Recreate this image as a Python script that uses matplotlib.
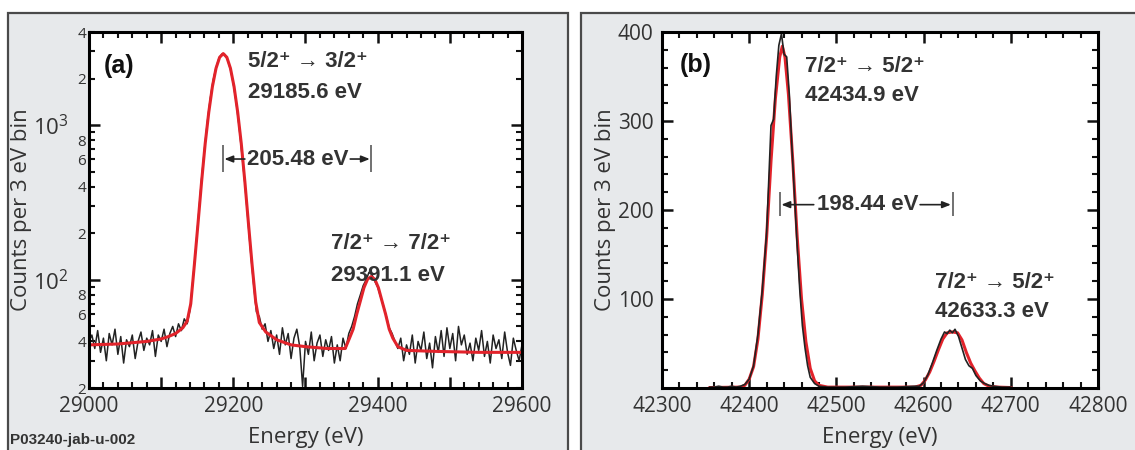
import numpy as np
import matplotlib
matplotlib.use('Agg')
import matplotlib.pyplot as plt
from matplotlib.patches import Rectangle
from matplotlib.ticker import MultipleLocator, FixedLocator, FuncFormatter

plt.rcParams['font.family'] = ['Open Sans', 'DejaVu Sans']
plt.rcParams['mathtext.fontset'] = 'custom'
plt.rcParams['mathtext.rm'] = 'Open Sans'

# ---- panel (a): 4 eV bins starting at 29000 eV
a_start, a_step = 29000, 4
a_counts = [
    40, 44, 36, 47, 34, 42, 30, 45, 38, 48, 33, 43, 29, 41, 37, 44, 31, 40, 46, 35,
    42, 38, 47, 32, 44, 40, 48, 37, 45, 50, 43, 52, 47, 56, 52, 64, 100, 160, 270, 450,
    700, 1050, 1480, 1950, 2350, 2700, 2880, 2870, 2650, 2300, 1850, 1400, 980, 640, 420, 250,
    150, 95, 62, 58, 48, 52, 40, 47, 36, 44, 33, 49, 38, 45, 31, 42, 48, 37, 20.5, 40,
    33, 46, 30, 39, 44, 32, 41, 35, 43, 29, 38, 30, 42, 36, 45, 50, 58, 70, 80, 92,
    100, 112, 108, 98, 90, 78, 68, 58, 49, 45, 40, 36, 42, 30, 38, 33, 44, 29, 40, 35,
    46, 31, 39, 27, 43, 34, 47, 32, 49, 36, 45, 30, 50, 38, 44, 33, 39, 30, 42, 35,
    47, 32, 40, 29, 44, 36, 41, 31, 46, 34, 28, 42, 35, 30, 38,
]
a_fit_e = [29000, 29040, 29080, 29100, 29110, 29120, 29130, 29136, 29141, 29146, 29151,
           29156, 29161, 29166, 29171, 29176, 29181, 29186, 29191, 29196, 29201, 29206,
           29211, 29216, 29221, 29226, 29231, 29236, 29245, 29260, 29280, 29300, 29330,
           29355, 29361, 29366, 29371, 29376, 29381, 29386, 29391, 29396, 29401, 29406,
           29411, 29416, 29421, 29428, 29440, 29480, 29540, 29600]
a_fit_c = [38, 38.5, 40, 41.5, 43, 45, 49, 54, 70, 125, 230,
           430, 760, 1215, 1775, 2330, 2745, 2900, 2745, 2330, 1775, 1215,
           760, 430, 230, 125, 72, 53, 46, 41, 38, 37, 36,
           36, 42, 48, 60, 73, 89, 101, 105, 101, 89, 73,
           60, 48, 42, 37, 35, 34.5, 34, 34]

# ---- panel (b)
b_e = [42355, 42360, 42365, 42370, 42375, 42380, 42385, 42390, 42395, 42400, 42405,
       42410, 42415, 42420, 42425, 42428, 42431, 42434, 42437, 42440, 42443, 42446,
       42449, 42452, 42455, 42458, 42461, 42464, 42467, 42470, 42475, 42480, 42490,
       42510, 42530, 42550, 42570, 42590, 42595, 42600, 42605, 42610, 42615, 42620,
       42624, 42627, 42630, 42633, 42636, 42640, 42644, 42648, 42652, 42656, 42660,
       42665, 42670, 42675, 42680, 42690, 42700]
b_counts = [1, 1, 2, 1, 1, 2, 1, 2, 4, 10, 25,
            60, 110, 175, 295, 302, 350, 385, 398, 375, 372, 330,
            270, 215, 160, 110, 70, 45, 25, 12, 5, 2, 1,
            1, 2, 1, 1, 2, 2, 6, 15, 28, 42, 55,
            63, 61, 65, 62, 66, 58, 45, 32, 25, 22, 14,
            8, 5, 3, 2, 1, 1]
b_fit_e = [42355, 42390, 42395, 42400, 42405, 42410, 42415, 42420, 42425, 42430, 42435,
           42438, 42441, 42445, 42450, 42455, 42460, 42465, 42470, 42475, 42480, 42490,
           42590, 42597, 42602, 42607, 42612, 42617, 42622, 42627, 42633, 42639, 42644,
           42649, 42654, 42659, 42664, 42669, 42675, 42685, 42700]
b_fit_c = [0.5, 1, 3, 10, 24, 55, 105, 170, 255, 325, 372,
           384, 372, 330, 255, 170, 100, 52, 22, 8, 3, 1,
           1, 3, 9, 18, 30, 43, 55, 62, 63, 62, 54,
           40, 28, 19, 11, 5, 2, 1, 0.5]

a_peaks = [29185.6, 29391.1]
b_peaks = [42434.9, 42633.3]

RED = '#e2232b'
TXT = '#333333'
W, H = 1135, 450

fig = plt.figure(figsize=(W / 100, H / 100), dpi=100)

# gray panel backgrounds
for x0, x1 in [(8, 568), (581, 1145)]:
    fig.add_artist(Rectangle((x0 / W, -0.05), (x1 - x0) / W, 1.05 - 13 / H,
                             transform=fig.transFigure, facecolor='#e7e9eb',
                             edgecolor='#4a4a4a', linewidth=1.6, zorder=0))

ax1 = fig.add_axes([89 / W, 62 / H, 433 / W, 356 / H])
ax2 = fig.add_axes([662 / W, 62 / H, 436 / W, 356 / H])

def style(ax):
    for s in ax.spines.values():
        s.set_linewidth(2.2)
    ax.tick_params(which='both', direction='in', top=True, right=True,
                   colors='#111111', labelcolor=TXT, labelsize=15)
    ax.tick_params(which='major', length=8, width=1.8, pad=6)
    ax.tick_params(which='minor', length=4.5, width=1.5)

bold = dict(family=['Liberation Sans', 'DejaVu Sans'], weight='bold', color=TXT, fontsize=16)
lab = dict(fontsize=16, color=TXT)

# ---------- (a)
a_e = a_start + a_step * np.arange(len(a_counts))
ax1.plot(a_e, a_counts, color='#222222', lw=1.1)
ax1.plot(a_fit_e, a_fit_c, color=RED, lw=2.2)
ax1.set_yscale('log')
ax1.set_xlim(29000, 29600)
ax1.set_ylim(20, 4000)
style(ax1)
ax1.xaxis.set_major_locator(MultipleLocator(100))
ax1.xaxis.set_minor_locator(MultipleLocator(20))
ax1.xaxis.set_major_formatter(FuncFormatter(lambda v, p: f'{v:.0f}' if round(v) % 200 == 0 else ''))
ax1.yaxis.set_major_locator(FixedLocator([100, 1000]))
ax1.yaxis.set_major_formatter(FuncFormatter(lambda v, p: r'$10^{%d}$' % round(np.log10(v))))
minor_vals = [m * d for d in (10, 100, 1000) for m in range(2, 10)]
ax1.yaxis.set_minor_locator(FixedLocator(minor_vals))

def minor_fmt(v, p):
    lead = int(round(v / 10 ** np.floor(np.log10(v) + 1e-9)))
    return str(lead) if lead in (2, 4, 6, 8) else ''

ax1.yaxis.set_minor_formatter(FuncFormatter(minor_fmt))
ax1.tick_params(axis='y', which='minor', labelsize=11, pad=2)
ax1.tick_params(axis='y', which='major', labelsize=16, pad=15)
ax1.set_ylabel('Counts per 3 eV bin', **lab)
ax1.set_xlabel('Energy (eV)', **lab)
ax1.yaxis.set_label_coords(-0.132, 0.5)
ax1.xaxis.set_label_coords(0.5, -0.11)

ax1.text(0.035, 0.905, '(a)', transform=ax1.transAxes, ha='left', va='center',
         family=['Liberation Sans', 'DejaVu Sans'], weight='bold', color='#111111', fontsize=18)
ax1.text(0.368, 0.916, '5/2⁺ → 3/2⁺', transform=ax1.transAxes, ha='left', va='center', **bold)
ax1.text(0.368, 0.831, '29185.6 eV', transform=ax1.transAxes, ha='left', va='center', **bold)
ax1.text(0.56, 0.407, '7/2⁺ → 7/2⁺', transform=ax1.transAxes, ha='left', va='center', **bold)
ax1.text(0.56, 0.317, '29391.1 eV', transform=ax1.transAxes, ha='left', va='center', **bold)

# width marker (a)
ya = 604
ax1.vlines(a_peaks, 497, 743, color='#666666', lw=1.3)
ax1.text(np.mean(a_peaks) + 1, ya, '205.48 eV', ha='center', va='center', **bold)
arrow = dict(arrowstyle='-|>,head_length=0.5,head_width=0.2', color='#222222', lw=1.2,
             shrinkA=0, shrinkB=0)
ax1.annotate('', xy=(a_peaks[0] + 2, ya), xytext=(29216, ya), arrowprops=arrow)
ax1.annotate('', xy=(a_peaks[1] - 2, ya), xytext=(29362, ya), arrowprops=arrow)

# ---------- (b)
ax2.plot(b_fit_e, b_fit_c, color=RED, lw=2.2)
ax2.plot(b_e, b_counts, color='#222222', lw=1.2)
ax2.set_xlim(42300, 42800)
ax2.set_ylim(0, 400)
style(ax2)
ax2.xaxis.set_major_locator(MultipleLocator(100))
ax2.xaxis.set_minor_locator(MultipleLocator(20))
ax2.yaxis.set_major_locator(MultipleLocator(100))
ax2.yaxis.set_minor_locator(MultipleLocator(20))
ax2.yaxis.set_major_formatter(FuncFormatter(lambda v, p: '' if v == 0 else f'{v:.0f}'))
ax2.set_ylabel('Counts per 3 eV bin', **lab)
ax2.set_xlabel('Energy (eV)', **lab)
ax2.yaxis.set_label_coords(-0.106, 0.5)
ax2.xaxis.set_label_coords(0.5, -0.11)

ax2.text(0.041, 0.907, '(b)', transform=ax2.transAxes, ha='left', va='center',
         family=['Liberation Sans', 'DejaVu Sans'], weight='bold', color='#111111', fontsize=18)
ax2.text(0.328, 0.904, '7/2⁺ → 5/2⁺', transform=ax2.transAxes, ha='left', va='center', **bold)
ax2.text(0.328, 0.823, '42434.9 eV', transform=ax2.transAxes, ha='left', va='center', **bold)
ax2.text(0.626, 0.295, '7/2⁺ → 5/2⁺', transform=ax2.transAxes, ha='left', va='center', **bold)
ax2.text(0.626, 0.216, '42633.3 eV', transform=ax2.transAxes, ha='left', va='center', **bold)

yb = 206
ax2.vlines(b_peaks, 193, 220, color='#666666', lw=1.3)
ax2.text(np.mean(b_peaks) + 2, yb, '198.44 eV', ha='center', va='center', **bold)
ax2.annotate('', xy=(b_peaks[0] + 2, yb), xytext=(42474, yb), arrowprops=arrow)
ax2.annotate('', xy=(b_peaks[1] - 2, yb), xytext=(42596, yb), arrowprops=arrow)

fig.text(10 / W, 1 - 440 / H, 'P03240-jab-u-002', ha='left', va='center',
         family=['Liberation Sans', 'DejaVu Sans'], weight='bold', color=TXT, fontsize=11)

fig.savefig('out.png', dpi=100)
